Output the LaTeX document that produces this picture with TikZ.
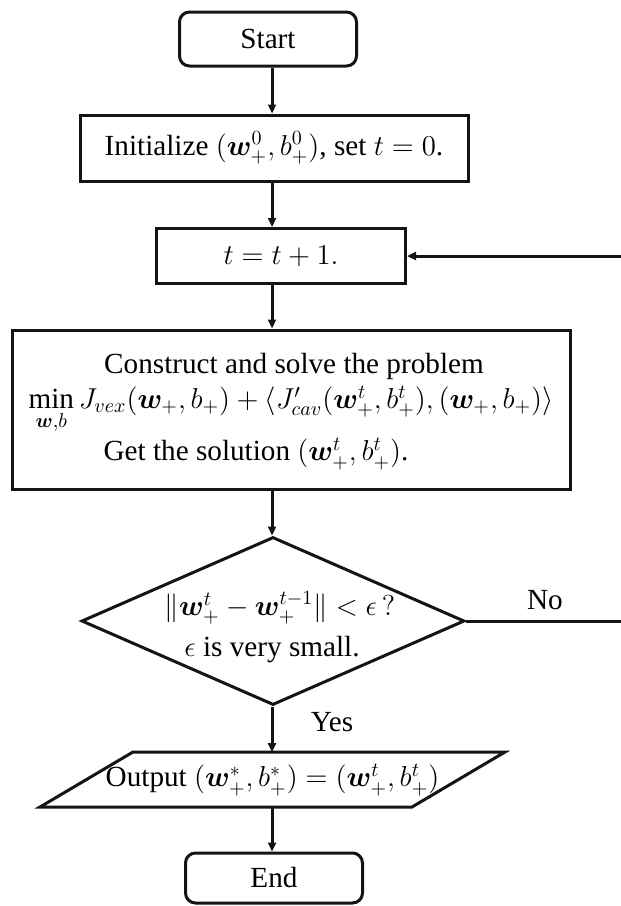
\documentclass[tikz,border=0pt]{standalone}
\usepackage{amsmath,amssymb,bm}
\usepackage{fontspec}
\setmainfont{Liberation Serif}
\usepackage{tikz}
\usetikzlibrary{arrows.meta,positioning,shapes.geometric,calc}
\definecolor{flowline}{RGB}{20,20,20}

\begin{document}
\begin{tikzpicture}[x=0.5pt,y=-0.5pt,>={Triangle[length=4.5pt,width=4pt]},
    font=\fontsize{14.6}{18}\selectfont,
    term/.style={draw=flowline,line width=1.5pt,rounded corners=5pt,
      minimum width=88.5pt,minimum height=27pt,inner sep=0pt},
    stepbox/.style={draw=flowline,line width=1.5pt,inner sep=0pt},
    flow/.style={->,draw=flowline,line width=1.5pt}]
  \useasboundingbox (0,0) rectangle (621,906);
  % boxes, top to bottom
  \node[term] (start) at (268,39) {Start};
  \node[stepbox,minimum width=194pt,minimum height=33pt] (init) at (274,148)
    {Initialize $(\bm{w}_+^0,b_+^0)$, set $t=0$.};
  \node[stepbox,minimum width=124.5pt,minimum height=27.5pt] (inc) at (281,256) {$t=t+1.$};
  \node[stepbox,minimum width=279pt,minimum height=79.5pt] (solve) at (291,409.5) {};
  \node (solveA) at (294,366) {Construct and solve the problem};
  \node (solveB) at (291,410) {$\min\limits_{\bm{w},b} J_{vex}(\bm{w}_+,b_+)
    +\langle J'_{cav}(\bm{w}_+^t,b_+^t),(\bm{w}_+,b_+)\rangle$};
  \node (solveC) at (256,454) {Get the solution $(\bm{w}_+^t,b_+^t)$.};
  % decision
  \node[diamond,draw=flowline,line width=1.5pt,inner sep=0pt,
    minimum width=191.5pt,minimum height=84pt] (check) at (273,621) {};
  \node (checkA) at (280,608) {$\|\bm{w}_+^t-\bm{w}_+^{t-1}\|<\epsilon\,?$};
  \node (checkB) at (272,650) {$\epsilon$ is very small.};
  % output, parallelogram drawn round the text
  \node[inner sep=0pt,minimum width=186pt,minimum height=27.5pt] (out) at (272.5,780)
    {Output $(\bm{w}_+^*,b_+^*)=(\bm{w}_+^t,b_+^t)$};
  \draw[flowline,line width=1.5pt,line join=miter]
    ($(out)+(-139.5,-28)$) -- ($(out)+(232.5,-28)$) -- ($(out)+(139.5,27)$)
    -- ($(out)+(-232.5,27)$) -- cycle;
  \node[term,minimum height=25pt] (end) at (274,878) {End};
  \coordinate (axis) at (272,0);
  \coordinate (edge) at (626,0);
  % connectors
  \draw[flow] (start.south -| axis) -- (init.north -| axis);
  \draw[flow] (init.south -| axis) -- (inc.north -| axis);
  \draw[flow] (inc.south -| axis) -- (solve.north -| axis);
  \draw[flow] (solve.south -| axis) -- (check.north -| axis);
  \draw[flow] (check.south -| axis) -- (out.north -| axis);
  \draw[flow] (out.south -| axis) -- (end.north -| axis);
  \draw[flow] (check.east) -- (check.east -| edge) |- (inc.east);
  \node (no) at (545,600) {No};
  \node (yes) at (332,722) {Yes};
\end{tikzpicture}
\end{document}
